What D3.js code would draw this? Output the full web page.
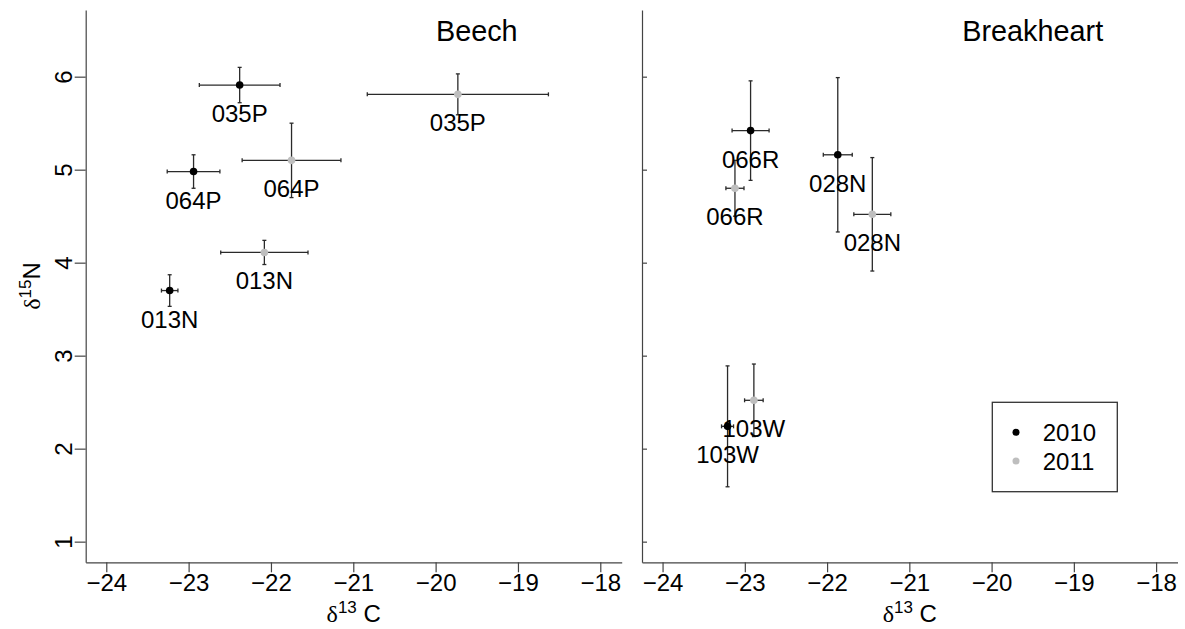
<!DOCTYPE html>
<html>
<head>
<meta charset="utf-8">
<script src="https://cdn.jsdelivr.net/npm/d3@7"></script>
<style>
  html, body { margin: 0; padding: 0; background: #fff; }
  svg { display: block; }
  text { font-family: "Liberation Sans", Arial, sans-serif; fill: #000; }
  .delta { font-family: "Liberation Serif", "DejaVu Serif", serif; }
</style>
</head>
<body>
<svg id="chart" width="1185" height="629"></svg>
<script>
// ---------- data ----------
const panelNames = ["Beech", "Breakheart"];
const sites   = ["035P", "035P", "064P", "064P", "013N", "013N",
                 "066R", "066R", "028N", "028N", "103W", "103W"];
const panels  = ["Beech", "Beech", "Beech", "Beech", "Beech", "Beech",
                 "Breakheart", "Breakheart", "Breakheart", "Breakheart", "Breakheart", "Breakheart"];
const years   = ["2010", "2011", "2010", "2011", "2010", "2011",
                 "2010", "2011", "2010", "2011", "2010", "2011"];
const d13C    = [-22.38, -19.73, -22.94, -21.75, -23.23, -22.08,
                 -22.93, -23.12, -21.87, -21.45, -23.21, -22.89];
const d13Cse  = [0.49, 1.10, 0.32, 0.60, 0.10, 0.53,
                 0.225, 0.11, 0.176, 0.225, 0.073, 0.113];
const d15N    = [5.91, 5.81, 4.98, 5.10, 3.70, 4.11,
                 5.42, 4.80, 5.16, 4.52, 2.24, 2.52];
const d15Nse  = [0.19, 0.22, 0.18, 0.40, 0.17, 0.13,
                 0.535, 0.30, 0.83, 0.61, 0.65, 0.39];
const yearLabels = ["2010", "2011"];
const yearColors = ["#000000", "#bebebe"];
const xTicks = [-24, -23, -22, -21, -20, -19, -18];
const yTicks = [1, 2, 3, 4, 5, 6];
const titleX = -19.5, titleY = 6.385;

// ---------- layout ----------
const svg = d3.select("#chart");
const plotTop = 10, plotBottom = 562.3;
const panelRanges = [[85.7, 621.7], [642, 1177.5]];
const xDomain = [-24.25, -17.74];
const yDomain = [0.778, 6.717];
const y = d3.scaleLinear().domain(yDomain).range([plotBottom, plotTop]);
const color = d3.scaleOrdinal().domain(yearLabels).range(yearColors);
const minus = s => String(s).replace("-", "\u2212");
const cap = 2;

panelNames.forEach((pname, pi) => {
  const x = d3.scaleLinear().domain(xDomain).range(panelRanges[pi]);
  const g = svg.append("g");

  // x axis
  const xa = g.append("g").attr("transform", `translate(0,${plotBottom})`)
    .call(d3.axisBottom(x).tickValues(xTicks).tickSize(10).tickSizeOuter(0).tickFormat(minus));
  xa.selectAll("path, line").attr("stroke", "#444").attr("stroke-width", 1.2);
  xa.selectAll("text").attr("y", 28.7).attr("dy", 0).attr("font-size", 24)
    .style("font-family", '"Liberation Sans", Arial, sans-serif').attr("fill", "#000");

  // y axis
  const x0 = panelRanges[pi][0];
  const ya = g.append("g").attr("transform", `translate(${x0},0)`)
    .call(pi === 0
      ? d3.axisLeft(y).tickValues(yTicks).tickSize(11).tickSizeOuter(0).tickFormat(d3.format("d"))
      : d3.axisRight(y).tickValues(yTicks).tickSize(5).tickSizeOuter(0).tickFormat(""));
  ya.selectAll("path, line").attr("stroke", "#444").attr("stroke-width", 1.2);
  if (pi === 0) {
    ya.selectAll("text")
      .attr("x", 0).attr("y", 0).attr("dy", 0)
      .attr("text-anchor", "middle")
      .attr("transform", "translate(-14,0) rotate(-90)")
      .attr("font-size", 24)
      .style("font-family", '"Liberation Sans", Arial, sans-serif').attr("fill", "#000");
  }

  // title
  g.append("text").attr("x", x(titleX)).attr("y", y(titleY))
    .attr("text-anchor", "middle").attr("font-size", 28.8).text(pname);

  // x label
  const cx = (panelRanges[pi][0] + panelRanges[pi][1]) / 2;
  const xl = g.append("text").attr("x", cx).attr("y", 621.5)
    .attr("text-anchor", "middle").attr("font-size", 24);
  xl.append("tspan").attr("class", "delta").text("\u03b4");
  xl.append("tspan").attr("font-size", 17).attr("dy", -9).text("13");
  xl.append("tspan").attr("dy", 9).text("\u00a0C");

  // data for this panel
  const idx = d3.range(sites.length).filter(i => panels[i] === pname);

  // error bars
  idx.forEach(i => {
    const px = x(d13C[i]), py = y(d15N[i]);
    const x1 = x(d13C[i] - d13Cse[i]), x2 = x(d13C[i] + d13Cse[i]);
    const y1 = y(d15N[i] + d15Nse[i]), y2 = y(d15N[i] - d15Nse[i]);
    const eb = g.append("g").attr("stroke", "#2a2a2a").attr("stroke-width", 1.3);
    eb.append("line").attr("x1", x1).attr("x2", x2).attr("y1", py).attr("y2", py);
    eb.append("line").attr("x1", x1).attr("x2", x1).attr("y1", py - cap).attr("y2", py + cap);
    eb.append("line").attr("x1", x2).attr("x2", x2).attr("y1", py - cap).attr("y2", py + cap);
    eb.append("line").attr("x1", px).attr("x2", px).attr("y1", y1).attr("y2", y2);
    eb.append("line").attr("x1", px - cap).attr("x2", px + cap).attr("y1", y1).attr("y2", y1);
    eb.append("line").attr("x1", px - cap).attr("x2", px + cap).attr("y1", y2).attr("y2", y2);
  });

  // points
  g.selectAll("circle.pt").data(idx).enter().append("circle")
    .attr("class", "pt")
    .attr("cx", i => x(d13C[i])).attr("cy", i => y(d15N[i]))
    .attr("r", 3.8).attr("fill", i => color(years[i]));

  // labels
  g.selectAll("text.lab").data(idx).enter().append("text")
    .attr("class", "lab")
    .attr("x", i => x(d13C[i])).attr("y", i => y(d15N[i]) + 37)
    .attr("text-anchor", "middle").attr("font-size", 24)
    .text(i => sites[i]);
});

// y label
const yl = svg.append("text").attr("transform", "translate(40,286) rotate(-90)")
  .attr("text-anchor", "middle").attr("font-size", 24);
yl.append("tspan").attr("class", "delta").text("\u03b4");
yl.append("tspan").attr("font-size", 17).attr("dy", -9).text("15");
yl.append("tspan").attr("dy", 9).text("N");

// legend
const lg = svg.append("g");
lg.append("rect").attr("x", 992.3).attr("y", 402.3).attr("width", 125).attr("height", 89.4)
  .attr("fill", "none").attr("stroke", "#333").attr("stroke-width", 1.3);
yearLabels.forEach((yr, k) => {
  lg.append("circle").attr("cx", 1016).attr("cy", 432.3 + k * 28.7).attr("r", 3.5).attr("fill", color(yr));
  lg.append("text").attr("x", 1042.7).attr("y", 441 + k * 28.7).attr("font-size", 24).text(yr);
});
</script>
</body>
</html>
